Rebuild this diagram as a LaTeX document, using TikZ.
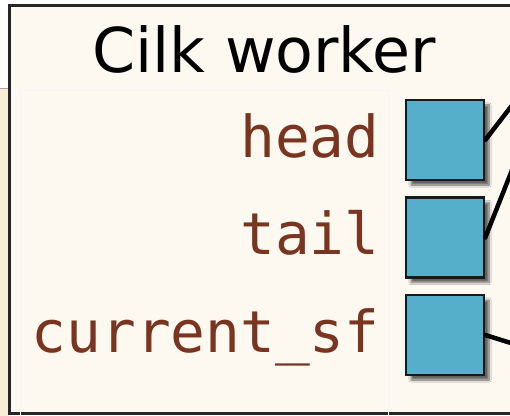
\documentclass[tikz,border=0pt]{standalone}
\usepackage{fontspec}
\setmainfont{DejaVu Sans}
\setmonofont{DejaVu Sans Mono}
\usetikzlibrary{positioning,shadows.blur}
\definecolor{paper}{HTML}{FDF9F1}
\definecolor{strip}{HTML}{F8EDD7}
\definecolor{fieldname}{HTML}{7A3520}
\definecolor{slotblue}{HTML}{55AFCA}
\tikzset{
		worker/.style  = {draw=black!85, line width=3bp, fill=paper},
		title/.style   = {font=\fontsize{62}{74}\selectfont, text=black},
		field/.style   = {font=\fontsize{58}{70}\selectfont\ttfamily, text=fieldname,
			inner sep=0pt, text height=34bp, text depth=0pt},
		slot/.style    = {draw=black!90, line width=2.5bp, fill=slotblue,
			minimum width=78bp, minimum height=80bp, inner sep=0pt,
			blur shadow={shadow xshift=5bp, shadow yshift=-5bp,
				shadow opacity=60, shadow blur steps=8}},
		pointer/.style = {line width=4.5bp, line cap=round}
	}

\begin{document}
\begin{tikzpicture}[x=1bp, y=1bp, node distance=15bp]
		\useasboundingbox (0,0) rectangle (510,415);
		\clip (0,0) rectangle (510,415);
		% frame of the neighbour, peeking out on the left
		\fill[strip] (-5,-5) rectangle (9,327);
		\draw[black!35, line width=1bp] (-5,327) -- (9,327);
		% the worker frame and its title
		\draw[worker] (9,409) rectangle (530,2);
		\draw[black!4, line width=1bp] (20,325) rectangle (388,-5);
		\node[title, anchor=base] (title) at (264,343) {Cilk worker};
		% slots, one under the other
		\node[slot] (head) at (445,275) {};
		\node[slot, below=of head] (tail) {};
		\node[slot, below=of tail] (current) {};
		% field names left of the slots
		\node[field, left=25bp of head] (headname) {head};
		\node[field, left=25bp of tail] (tailname) {tail};
		\node[field, left=25bp of current] (currentname) {current\_sf};
		% pointers leave the picture to the right
		\coordinate (head-ptr) at (530,333);
		\coordinate (tail-ptr) at (520,265);
		\coordinate (current-ptr) at (530,66);
		\foreach \slot in {head,tail,current}
		\draw[pointer] (\slot.east) -- (\slot-ptr);
	\end{tikzpicture}
\end{document}
